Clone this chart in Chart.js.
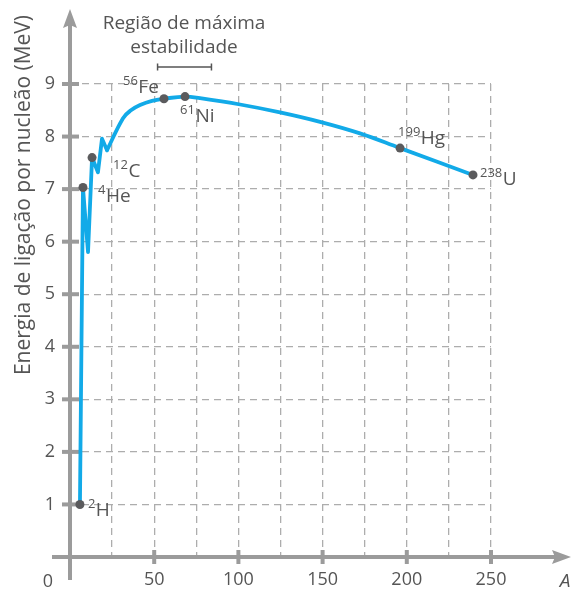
<!DOCTYPE html>
<html>
<head>
<meta charset="utf-8">
<script src="https://cdn.jsdelivr.net/npm/chart.js@4/dist/chart.umd.min.js"></script>
<style>
  html, body { margin: 0; padding: 0; background: #fff; }
  #wrap { width: 571px; height: 591px; position: relative; }
</style>
</head>
<body>
<div id="wrap"><canvas id="curva"></canvas></div>
<script>
// curva: parte irregular (núcleos leves) e parte suave
const sharpA = [5.9, 7.7, 10.7, 13.1, 16.6, 19.0, 22.0];
const sharpE = [1.0, 7.03, 5.8, 7.6, 7.32, 7.96, 7.74];
const smoothA = [22.0, 31.5, 36.2, 41.6, 48.7, 55.8, 68.3, 77.2, 101, 124.7, 148.5, 172.2, 196, 239.3];
const smoothE = [7.74, 8.35, 8.5, 8.6, 8.68, 8.72, 8.76, 8.73, 8.61, 8.46, 8.28, 8.06, 7.78, 7.27];

// núcleos marcados
const nucMass = ["2", "4", "12", "56", "61", "199", "238"];
const nucSymbol = ["H", "He", "C", "Fe", "Ni", "Hg", "U"];
const nucA = [5.9, 7.7, 13.1, 55.8, 68.3, 196, 239.3];
const nucE = [1.0, 7.03, 7.6, 8.72, 8.76, 7.78, 7.27];

const xTicks = [50, 100, 150, 200, 250];
const yTicks = [1, 2, 3, 4, 5, 6, 7, 8, 9];
const regionA = [52, 84];

const yTitle = "Energia de ligação por nucleão (MeV)";
const regionTitle = ["Região de máxima", "estabilidade"];

// label offsets (px) from each point: [sup x, baseline y]
const labelOffsets = [[8, 12], [15, 14], [21, 19], [-41, -6], [-5, 25], [-2, -4], [7, 10]];

const FONT = "'Open Sans', 'DejaVu Sans', sans-serif";
const TEXT = "#555";
const AXIS = "#9b9b9b";

const toXY = (xs, ys) => xs.map((x, i) => ({ x: x, y: ys[i] }));

const decor = {
  id: "decor",
  beforeDatasetsDraw(chart) {
    const ctx = chart.ctx;
    const xs = chart.scales.x, ys = chart.scales.y;
    const x0 = xs.getPixelForValue(0), y0 = ys.getPixelForValue(0);
    ctx.save();
    ctx.strokeStyle = AXIS;
    ctx.fillStyle = AXIS;
    ctx.lineWidth = 4;
    // eixo y
    ctx.beginPath();
    ctx.moveTo(x0, 580);
    ctx.lineTo(x0, 24);
    ctx.stroke();
    ctx.beginPath();
    ctx.moveTo(x0, 9);
    ctx.lineTo(x0 + 7, 28);
    ctx.lineTo(x0, 25);
    ctx.lineTo(x0 - 7, 28);
    ctx.closePath();
    ctx.fill();
    // eixo x
    ctx.beginPath();
    ctx.moveTo(52, y0);
    ctx.lineTo(560, y0);
    ctx.stroke();
    ctx.beginPath();
    ctx.moveTo(571, y0);
    ctx.lineTo(552, y0 - 7);
    ctx.lineTo(555, y0);
    ctx.lineTo(552, y0 + 7);
    ctx.closePath();
    ctx.fill();
    // marcas
    yTicks.forEach(v => {
      const p = ys.getPixelForValue(v);
      ctx.beginPath();
      ctx.moveTo(x0 - 8, p);
      ctx.lineTo(x0 + 9, p);
      ctx.stroke();
    });
    xTicks.forEach(v => {
      const p = xs.getPixelForValue(v);
      ctx.beginPath();
      ctx.moveTo(p, y0 - 7);
      ctx.lineTo(p, y0 + 7);
      ctx.stroke();
    });
    ctx.restore();
  },
  afterDatasetsDraw(chart) {
    const ctx = chart.ctx;
    const xs = chart.scales.x, ys = chart.scales.y;
    ctx.save();
    ctx.fillStyle = TEXT;
    ctx.textBaseline = "alphabetic";
    // rótulos dos núcleos
    nucSymbol.forEach((s, i) => {
      const px = xs.getPixelForValue(nucA[i]);
      const py = ys.getPixelForValue(nucE[i]);
      const lx = px + labelOffsets[i][0];
      const by = py + labelOffsets[i][1];
      ctx.font = "13px " + FONT;
      ctx.textAlign = "left";
      ctx.fillText(nucMass[i], lx, by - 8);
      const w = ctx.measureText(nucMass[i]).width;
      ctx.font = "19px " + FONT;
      ctx.fillText(s, lx + w + 0.5, by);
    });
    // título do eixo y
    ctx.save();
    ctx.translate(30, 195);
    ctx.rotate(-Math.PI / 2);
    ctx.font = "21px " + FONT;
    ctx.textAlign = "center";
    ctx.fillText(yTitle, 0, 0);
    ctx.restore();
    // "0" e "A"
    ctx.font = "18px " + FONT;
    ctx.textAlign = "center";
    ctx.fillText("0", 48, 587);
    ctx.font = "italic 19px " + FONT;
    ctx.fillText("A", 565, 587);
    // região de máxima estabilidade
    ctx.font = "19px " + FONT;
    ctx.fillText(regionTitle[0], 184, 29);
    ctx.fillText(regionTitle[1], 184, 53);
    const bx1 = xs.getPixelForValue(regionA[0]);
    const bx2 = xs.getPixelForValue(regionA[1]);
    ctx.strokeStyle = TEXT;
    ctx.lineWidth = 1.5;
    ctx.beginPath();
    ctx.moveTo(bx1, 67); ctx.lineTo(bx2, 67);
    ctx.moveTo(bx1, 63.5); ctx.lineTo(bx1, 70.5);
    ctx.moveTo(bx2, 63.5); ctx.lineTo(bx2, 70.5);
    ctx.stroke();
    ctx.restore();
  }
};

new Chart(document.getElementById("curva").getContext("2d"), {
  type: "line",
  data: {
    datasets: [
      {
        data: toXY(sharpA, sharpE),
        borderColor: "#12aae8",
        borderWidth: 3.8,
        pointRadius: 0,
        tension: 0,
        borderJoinStyle: "round",
        borderCapStyle: "round",
        order: 2
      },
      {
        data: toXY(smoothA, smoothE),
        borderColor: "#12aae8",
        borderWidth: 3.8,
        pointRadius: 0,
        tension: 0.4,
        borderCapStyle: "round",
        order: 2
      },
      {
        data: toXY(nucA, nucE),
        showLine: false,
        pointRadius: 4.5,
        pointBackgroundColor: "#5b5b5d",
        pointBorderWidth: 0,
        order: 1
      }
    ]
  },
  options: {
    responsive: true,
    maintainAspectRatio: false,
    animation: false,
    events: [],
    layout: { padding: { left: 0, right: 80, top: 84, bottom: 0 } },
    plugins: { legend: { display: false }, tooltip: { enabled: false } },
    scales: {
      x: {
        type: "linear",
        min: 0,
        max: 250,
        afterFit: s => { s.height = 34; },
        ticks: {
          stepSize: 25,
          padding: 12,
          color: TEXT,
          font: { family: FONT, size: 18 },
          maxRotation: 0,
          autoSkip: false,
          callback: v => (xTicks.includes(v) ? v : "")
        },
        grid: { color: "#adadad", lineWidth: 1.3, drawTicks: false },
        border: { display: false, dash: [7, 5] }
      },
      y: {
        type: "linear",
        min: 0,
        max: 9,
        afterFit: s => { s.width = 70; },
        ticks: {
          stepSize: 1,
          padding: 15,
          color: TEXT,
          font: { family: FONT, size: 18 },
          callback: v => (yTicks.includes(v) ? v : "")
        },
        grid: { color: "#adadad", lineWidth: 1.3, drawTicks: false },
        border: { display: false, dash: [7, 5] }
      }
    }
  },
  plugins: [decor]
});
</script>
</body>
</html>
